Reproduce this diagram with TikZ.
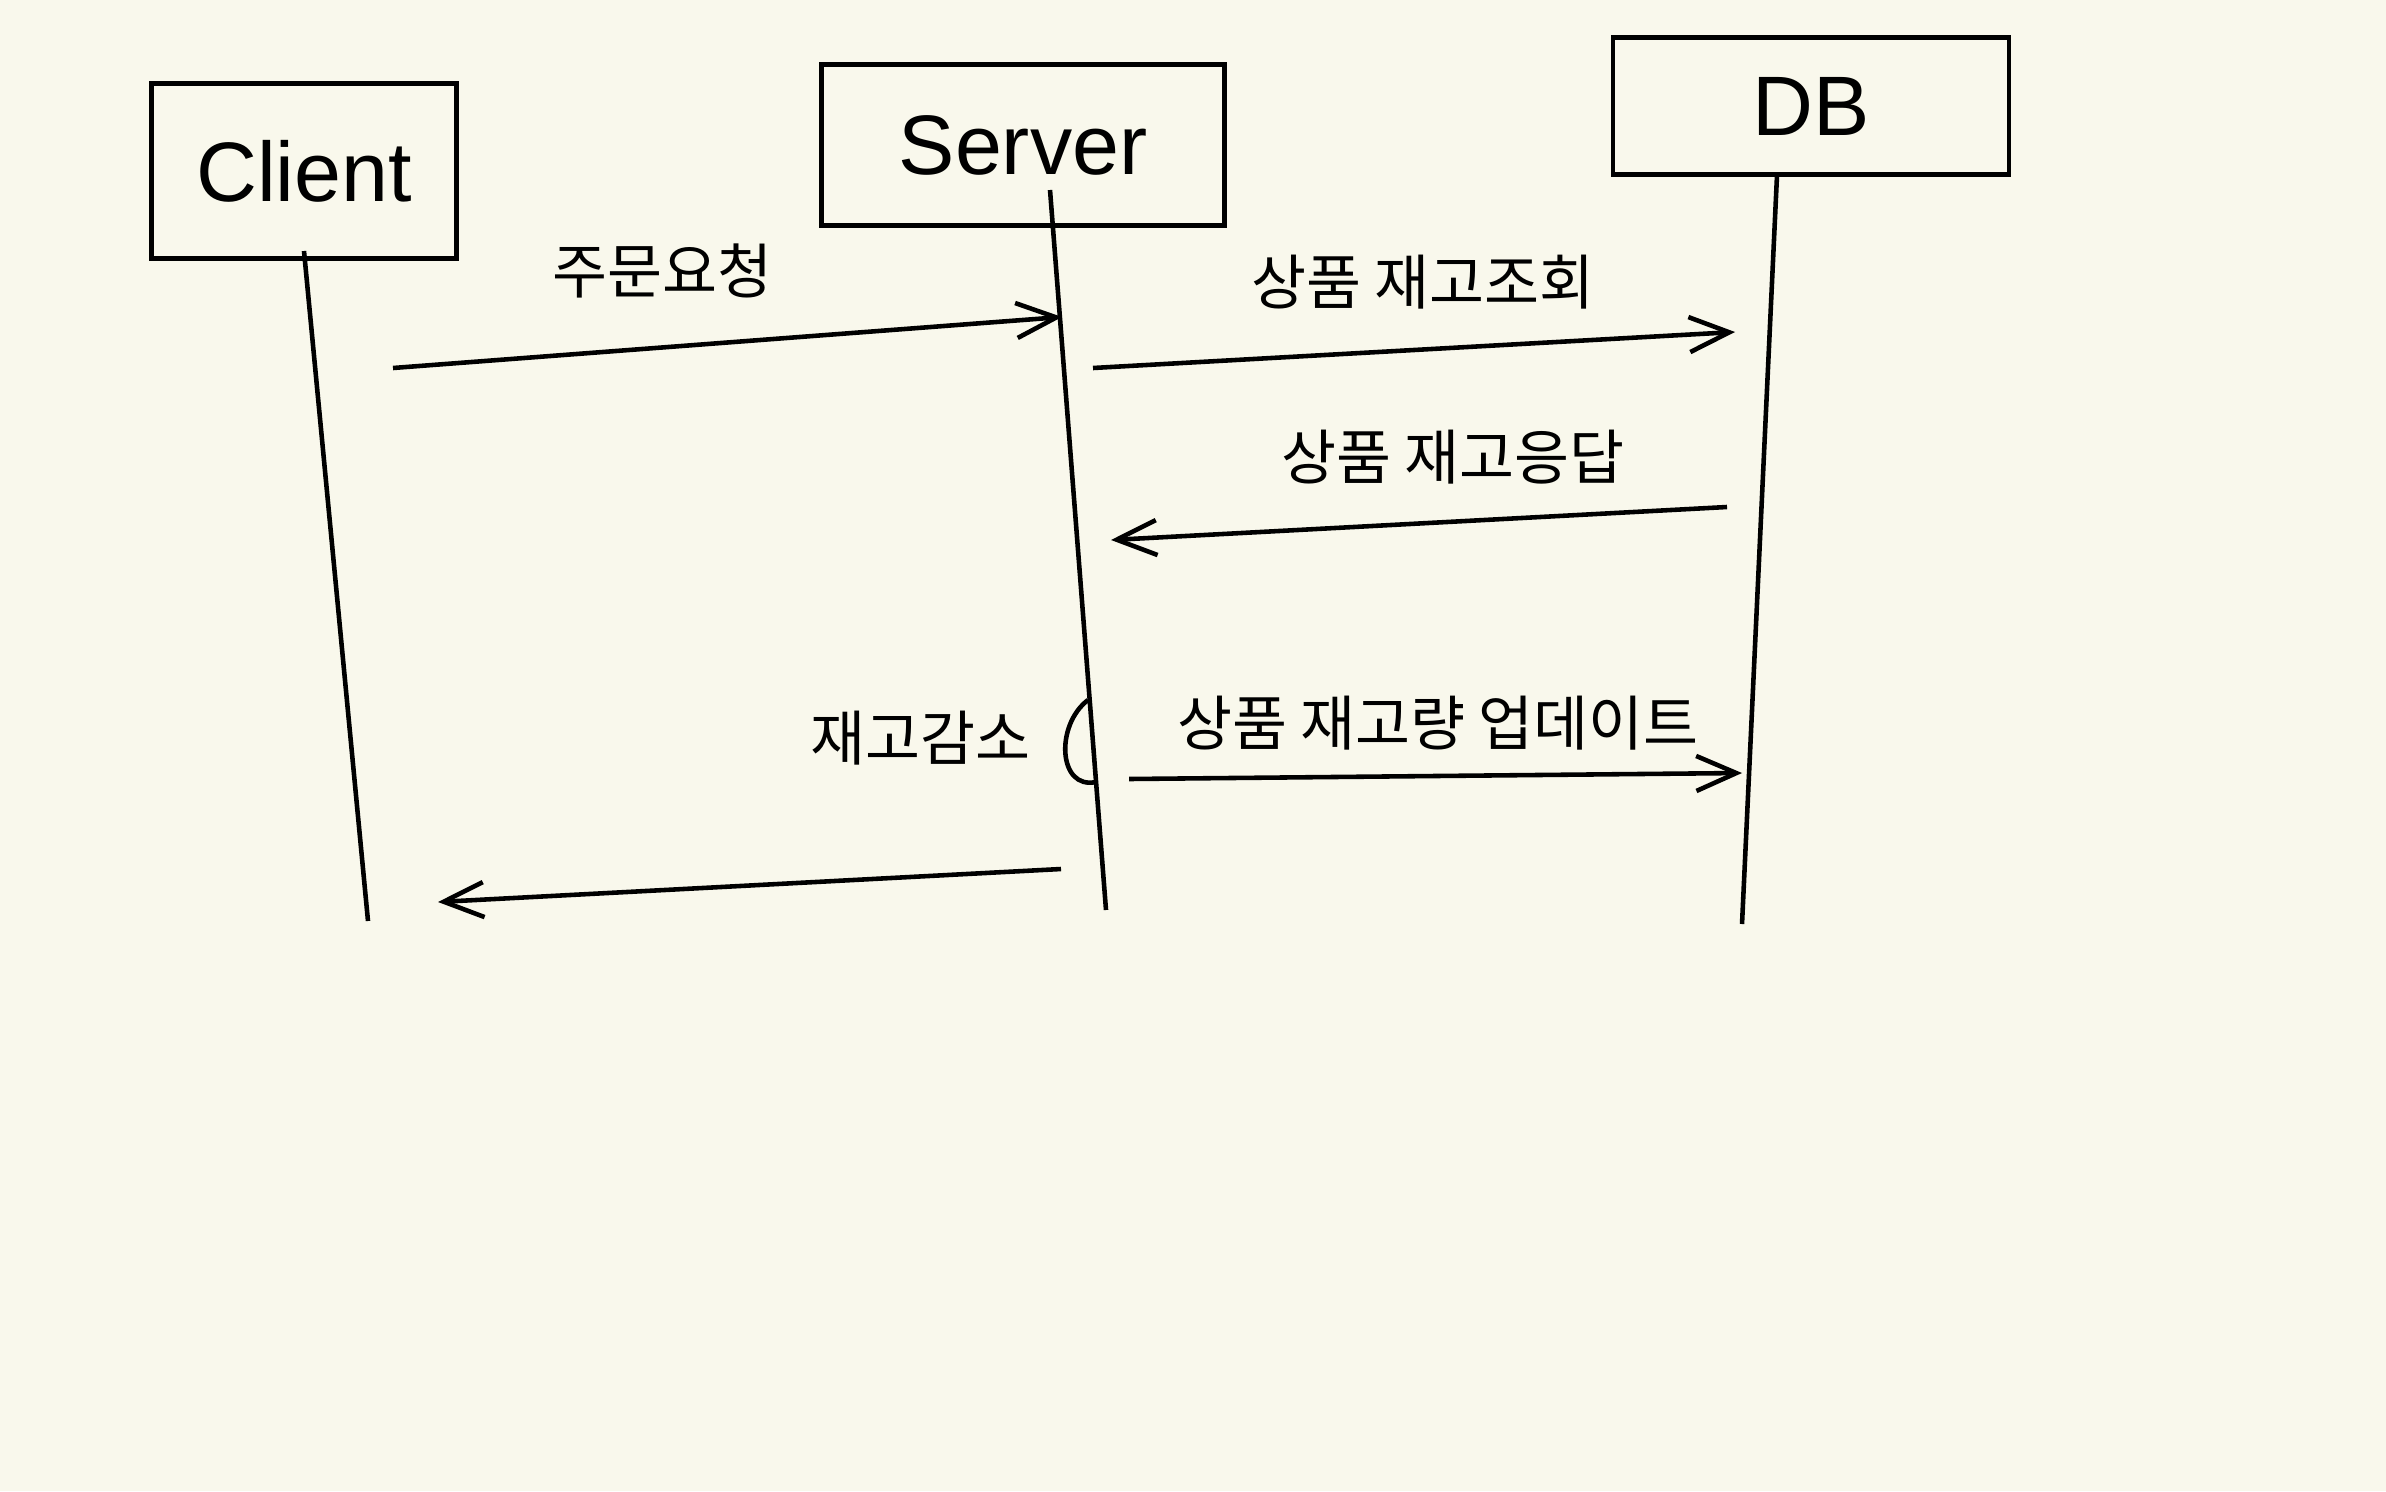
\documentclass[tikz,border=0pt]{standalone}
\usepackage{fontspec}
\setmainfont{Liberation Sans}
\newfontfamily\kor{Noto Sans CJK KR}
\usetikzlibrary{arrows.meta}
\definecolor{paper}{HTML}{F9F8EC}

\begin{document}
\begin{tikzpicture}[x=0.01cm,y=-0.01cm,>={Straight Barb[length=4mm,width=3.5mm]},line width=1.3pt,
  actor/.style={draw,font=\fontsize{24}{28}\selectfont},
  msg/.style={font=\kor\fontsize{17}{20}\selectfont}]
  \fill[paper] (0,0) rectangle (2386,1491);

  % 참여자
  \node[actor,minimum width=3.05cm,minimum height=1.75cm] (client) at (304,171) {Client};
  \node[actor,minimum width=4.03cm,minimum height=1.61cm,text depth=0pt] (server) at (1023,145) {Server\hspace{0.35cm}};
  \node[actor,minimum width=3.96cm,minimum height=1.37cm] (db) at (1811,106) {DB};

  % 생명선
  \coordinate (clienttop) at (304,251);
  \coordinate (clientbot) at (368,921);
  \coordinate (servertop) at (1050,190);
  \coordinate (serverbot) at (1106,910);
  \coordinate (dbtop) at (1777,175);
  \coordinate (dbbot) at (1742,924);
  \draw (clienttop) -- (clientbot);
  \draw (servertop) -- (serverbot);
  \draw (dbtop) -- (dbbot);

  % 메시지
  \coordinate (m1a) at (393,368);
  \coordinate (m1b) at (1062,317);
  \coordinate (m2a) at (1093,368);
  \coordinate (m2b) at (1735,332);
  \coordinate (m3a) at (1727,507);
  \coordinate (m3b) at (1111,540);
  \coordinate (m4a) at (1129,779);
  \coordinate (m4b) at (1742,773);
  \coordinate (m5a) at (1061,869);
  \coordinate (m5b) at (438,902);
  \draw[->] (m1a) -- (m1b);
  \draw[->] (m2a) -- (m2b);
  \draw[->] (m3a) -- (m3b);
  \draw[->] (m4a) -- (m4b);
  \draw[->] (m5a) -- (m5b);

  % 자기 호출
  \coordinate (selfa) at (1088,700);
  \coordinate (selfb) at (1096,782);
  \draw (selfa) .. controls (1055,725) and (1058,790) .. (selfb);

  % 라벨
  \node[msg] (l1) at (662,271) {주문요청};
  \node[msg] (l2) at (1423,282) {상품 재고조회};
  \node[msg] (l3) at (1453,457) {상품 재고응답};
  \node[msg] (l4) at (920,738) {재고감소};
  \node[msg] (l5) at (1438,723) {상품 재고량 업데이트};
\end{tikzpicture}
\end{document}
